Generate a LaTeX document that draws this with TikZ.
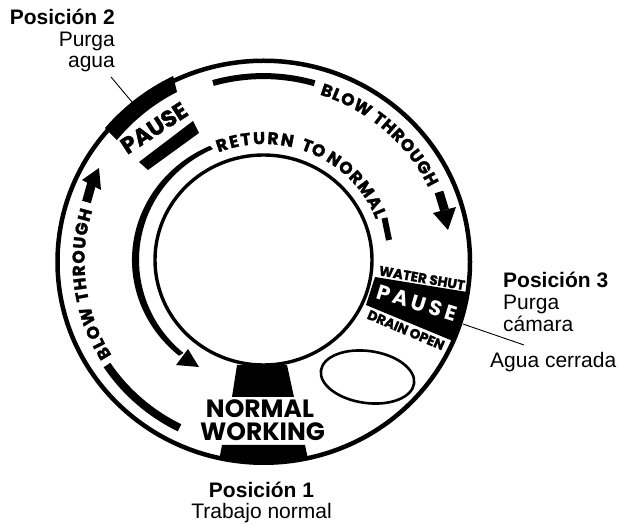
\documentclass[tikz,border=0pt]{standalone}
\usepackage{fontspec}
\setmainfont{Liberation Sans}
\newfontfamily\dialfont[BoldFeatures={FakeBold=1.6}]{Poppins}
\newfontfamily\plainfont{Poppins}
\usetikzlibrary{decorations.text}
\newcommand{\blowfont}{\dialfont\bfseries\fontsize{17}{17}\selectfont}
\newcommand{\returnfont}{\dialfont\bfseries\fontsize{17}{17}\selectfont}
\tikzset{
    labelbold/.style={font=\fontsize{21}{21}\selectfont\bfseries,inner sep=0pt},
    labelthin/.style={font=\fontsize{21}{21}\selectfont,inner sep=0pt},
    dialword/.style={font=\dialfont\bfseries\fontsize{#1}{#1}\selectfont,inner sep=0pt},
    plainword/.style={font=\plainfont\bfseries\fontsize{#1}{#1}\selectfont,inner sep=0pt},
    dialtext/.style={decorate,decoration={text along path,text align={fit to path},text={#1}}},
    tighttext/.style={decorate,decoration={text along path,text={#1}}},
    leader/.style={line width=.9pt}
}
\begin{document}
\begin{tikzpicture}[x=1pt,y=1pt]
            \useasboundingbox (0,0) rectangle (620,524);
            \def\outerring{(263.75,262.25) circle [x radius=206.25,y radius=201]}
            \def\innerring{(263.5,264) circle [x radius=108.5,y radius=105]}
            \draw[line width=4.5pt] \outerring;
            \draw[line width=3.4pt] \innerring;
            % pause, top left
            \fill (105,396) arc [start angle=140,end angle=116,x radius=208,y radius=203]
                -- (177,432) arc [start angle=117,end angle=140.3,radius=190.7] -- cycle;
            \fill (139,362) -- (148,354) -- (199,391) -- (193,403) -- cycle;
            \node[dialword=23,rotate=33] (pausetop) at (154,396) {PAUSE};
            % pause, right
            \fill (375,247) -- (467,232) arc [start angle=-8.6,end angle=-23,x radius=208,y radius=203]
                -- (366,219) -- cycle;
            \node[plainword=21,rotate=-17,text=white] (pauseright) at (417,221) {P\,A\,U\,S\,E};
            \node[dialword=13.5,rotate=-10] (watershut) at (422,246) {WATER SHUT};
            \node[dialword=13.5,rotate=-23] (drainopen) at (406,194) {DRAIN OPEN};
            % normal working
            \fill (237,159) -- (287,159) -- (294,127) -- (232,127) -- cycle;
            \fill (222,79) -- (305,79) -- (308,65) arc [start angle=-78,end angle=-102.6,x radius=208,y radius=203] -- cycle;
            \node[plainword=25] (normal) at (260,115.5) {NORMAL};
            \node[plainword=25] (working) at (262.5,92.5) {WORKING};
            % blow through arrows
            \draw[line width=6pt] (213,441) arc [start angle=105.7,end angle=74,x radius=186,y radius=185];
            \draw[line width=9pt] (439,332) -- (444.5,314);
            \fill (433,311) -- (456,317) -- (448,294) -- cycle;
            \draw[line width=8pt] (107,159) arc [start angle=213.5,end angle=243.5,x radius=187,y radius=183];
            \draw[line width=9pt] (86.5,322) -- (91.5,340);
            \fill (82,344) -- (101,334) -- (99,356) -- cycle;
            \path[dialtext={|\blowfont|BLOW THROUGH}] (263.5,262) ++(72:182 and 176) arc [start angle=72,end angle=25,x radius=182,y radius=176];
            \path[dialtext={|\blowfont|BLOW THROUGH}] (263.5,262) ++(212:179 and 176) arc [start angle=212,end angle=163,x radius=179,y radius=176];
            % return to normal
            \fill (263.5,264) ++(114:131.5 and 125) arc [start angle=114,end angle=230,x radius=131.5,y radius=125]
                -- (183.5,171) arc [start angle=230,end angle=114,x radius=124.5,y radius=121.4] -- cycle;
            \fill (188,175) -- (176,159) -- (199,157) -- cycle;
            \draw[line width=6pt] (384.5,306) -- (389,284);
            \path[dialtext={|\returnfont|RETURN}] (263.5,264) ++(112:120 and 116) arc [start angle=112,end angle=76,x radius=120,y radius=116];
            \path[tighttext={|\returnfont|TO}] (263.5,264) ++(72:120 and 116) arc [start angle=72,end angle=50,x radius=120,y radius=116];
            \path[dialtext={|\returnfont|NORMAL}] (263.5,264) ++(59:120 and 116) arc [start angle=59,end angle=20.5,x radius=120,y radius=116];
            % window
            \draw[line width=2.6pt,rotate around={-8:(367.5,147)}] (367.5,147) ellipse [x radius=47,y radius=26];
            % labels
            \node[labelbold,anchor=base east] (pos2) at (115,499) {Posición 2};
            \node[labelthin,anchor=base east] (pos2a) at (115,477) {Purga};
            \node[labelthin,anchor=base east] (pos2b) at (115,456) {agua};
            \node[labelbold,anchor=base west] (pos3) at (503,236) {Posición 3};
            \node[labelthin,anchor=base west] (pos3a) at (503,214) {Purga};
            \node[labelthin,anchor=base west] (pos3b) at (503,192) {cámara};
            \node[labelthin,anchor=base west] (pos3c) at (490,156) {Agua cerrada};
            \node[labelbold,anchor=base] (pos1) at (261.5,27) {Posición 1};
            \node[labelthin,anchor=base] (pos1a) at (261.5,6) {Trabajo normal};
            \coordinate (pausetopedge) at (132,422);
            \coordinate (pauserightedge) at (463,200);
            \draw[leader] (111,447) -- (pausetopedge);
            \draw[leader] (pauserightedge) -- (524,179);
\end{tikzpicture}
\end{document}
